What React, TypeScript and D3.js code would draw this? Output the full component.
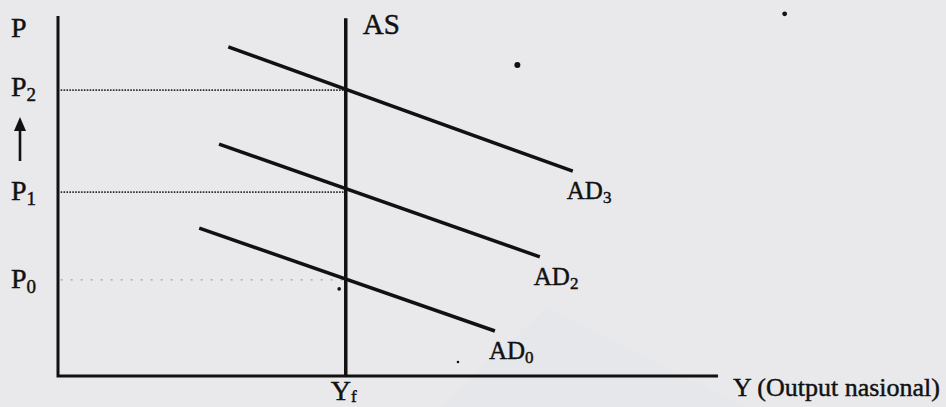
import React from "react";
import * as d3 from "d3";

// AD–AS diagram: aggregate demand shifts at full-employment output
const W = 946;
const H = 407;

// price levels on the vertical axis (index units, 0–100)
const priceLabel = "P";
const priceSubs = ["2", "1", "0"];
const priceValues = [79.4, 51.1, 26.7];

// full-employment output on the horizontal axis (index units, 0–100)
const outputFull = 43.6;

// aggregate demand curves: [x0, p0, x1, p1]
const adNames = ["AD", "AD", "AD"];
const adSubs = ["3", "2", "0"];
const adX0 = [25.8, 24.4, 21.4];
const adP0 = [91.4, 64.4, 41.1];
const adX1 = [78.0, 73.0, 66.2];
const adP1 = [56.9, 33.1, 12.5];

// small ink marks on the page
const specksX = [69.6, 110.1, 42.6, 60.6];
const specksY = [86.4, 100.6, 24.2, 3.9];
const specksR = [3, 2.4, 1.8, 1.3];

const FONT = "'Liberation Serif', 'DejaVu Serif', serif";
const INK = "#111";
const textInk = { fill: INK, stroke: INK, strokeWidth: 0.45 };

export default function App() {
  const x = d3.scaleLinear().domain([0, 100]).range([58, 718]);
  const y = d3.scaleLinear().domain([0, 100]).range([376, 16]);
  const line = d3.line<[number, number]>().x((d) => x(d[0])).y((d) => y(d[1]));

  const adLines = adNames.map((n, i) => ({
    name: n,
    sub: adSubs[i],
    pts: [
      [adX0[i], adP0[i]],
      [adX1[i], adP1[i]],
    ] as [number, number][],
  }));

  return (
    <svg
      width={W}
      height={H}
      style={{ position: "absolute", left: 0, top: 0, background: "#e9e9eb" }}
      fontFamily={FONT}
    >
      <rect width={W} height={H} fill="#e9e9eb" />
      {/* faint watermark triangle */}
      <path
        d={`M${x(58)},${H} L${x(74)},${y(19)} L${x(104)},${H} Z`}
        fill="#e3e5eb"
        opacity={0.5}
      />

      {/* dotted guides from price levels to AS */}
      {priceValues.map((p, i) => (
        <path
          key={"g" + i}
          d={line([
            [0.4, p],
            [outputFull, p],
          ])!}
          stroke={i < 2 ? "#2e2e2e" : "#a0a0a0"}
          strokeWidth={i < 2 ? 1.7 : 1.3}
          strokeDasharray={i < 2 ? "1.6 1.3" : "2 8"}
          fill="none"
        />
      ))}

      {/* axes */}
      <path
        d={line([
          [0, 100],
          [0, 0],
          [100, 0],
        ])!}
        stroke={INK}
        strokeWidth={3}
        fill="none"
      />

      {/* AS: vertical at full-employment output */}
      <path
        d={line([
          [outputFull, 99.4],
          [outputFull, 0],
        ])!}
        stroke={INK}
        strokeWidth={3.5}
        fill="none"
      />
      <text x={x(outputFull) + 17} y={y(99.4) + 16} fontSize={29} {...textInk}>
        AS
      </text>

      {/* AD curves */}
      {adLines.map((a, i) => (
        <g key={"ad" + i}>
          <path d={line(a.pts)!} stroke={INK} strokeWidth={3.5} fill="none" />
          <text
            x={x(a.pts[1][0]) - 6}
            y={y(a.pts[1][1]) + 28}
            fontSize={25}
            {...textInk}
          >
            {a.name}
            <tspan fontSize={17} dy={4}>
              {a.sub}
            </tspan>
          </text>
        </g>
      ))}

      {/* vertical axis labels */}
      <text x={11} y={37} fontSize={28} {...textInk}>
        P
      </text>
      {priceValues.map((p, i) => (
        <text key={"pl" + i} x={11} y={y(p) + 8 - (i === 0 ? 2 : 0)} fontSize={28} {...textInk}>
          {priceLabel}
          <tspan fontSize={19} dy={5}>
            {priceSubs[i]}
          </tspan>
        </text>
      ))}

      {/* upward arrow between P1 and P2 */}
      <line x1={20} x2={20} y1={161} y2={128} stroke={INK} strokeWidth={2.6} />
      <path d="M14,131 L20,117 L26,131 Z" fill={INK} />

      {/* horizontal axis labels */}
      <text x={x(outputFull) - 15} y={400} fontSize={28} {...textInk}>
        Y
        <tspan fontSize={17} dy={2}>
          f
        </tspan>
      </text>
      <text x={733} y={396} fontSize={26} {...textInk}>
        Y (Output nasional)
      </text>

      {/* ink specks */}
      {specksX.map((sx, i) => (
        <circle key={"s" + i} cx={x(sx)} cy={y(specksY[i])} r={specksR[i]} fill={INK} />
      ))}
    </svg>
  );
}
